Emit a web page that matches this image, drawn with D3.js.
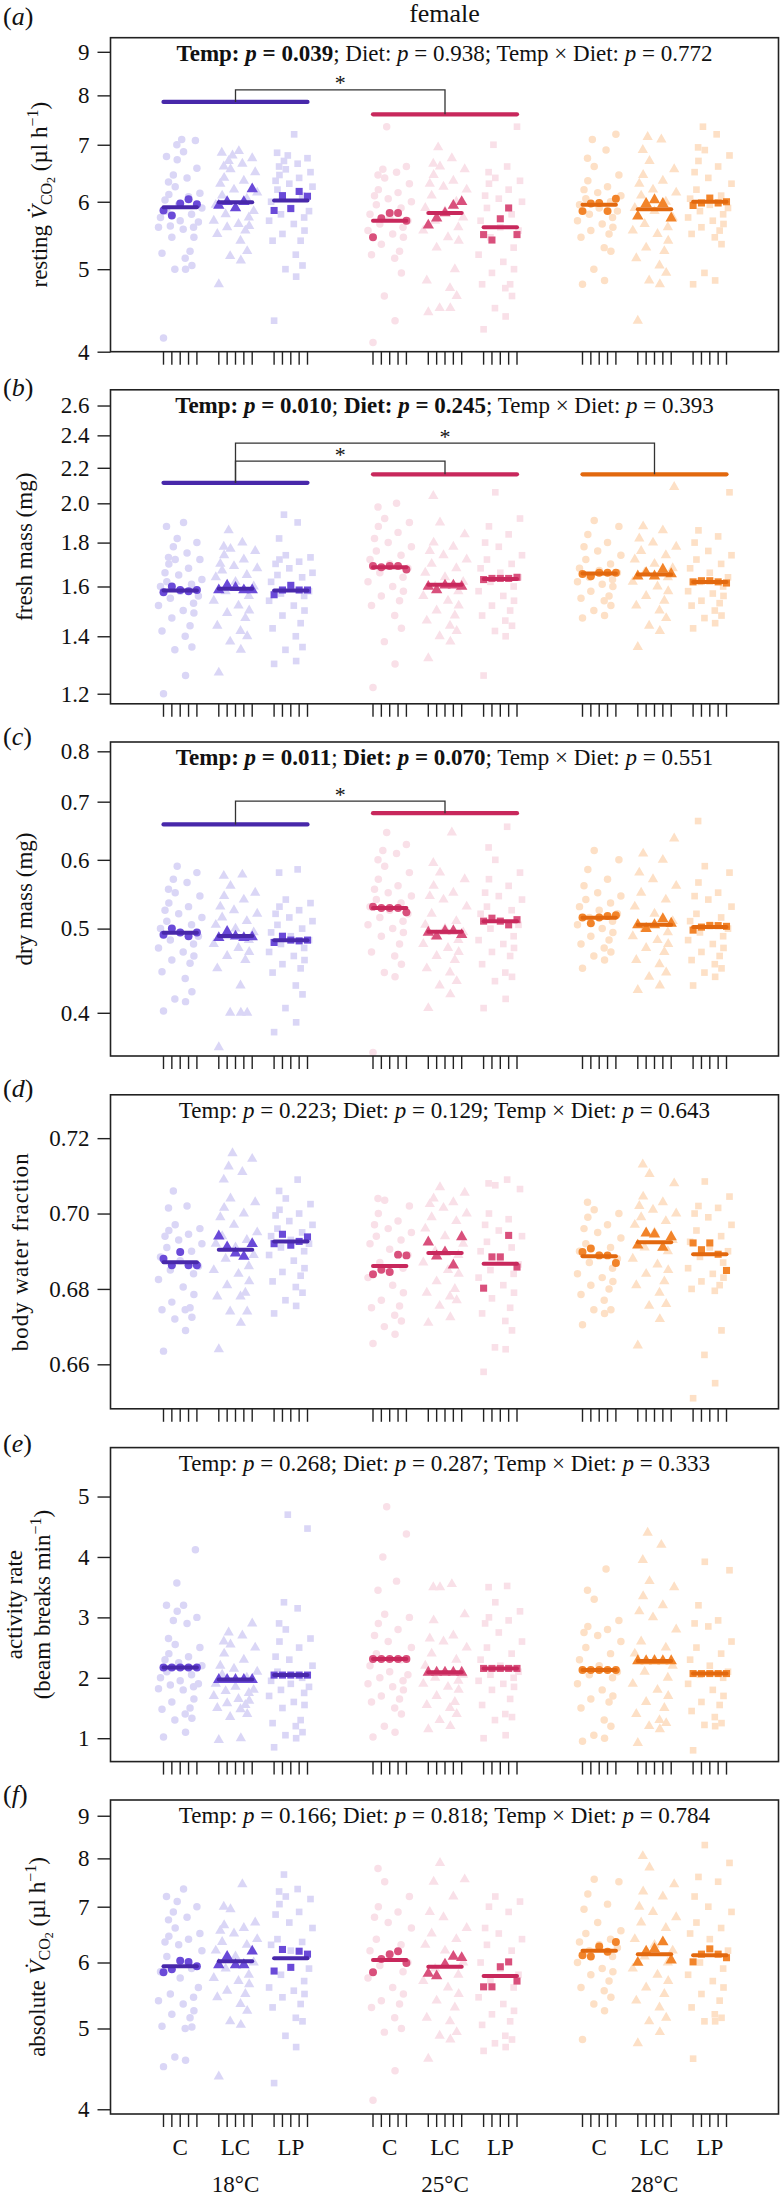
<!DOCTYPE html>
<html><head><meta charset="utf-8">
<script src="https://cdn.jsdelivr.net/npm/d3@7"></script>
<style>
body{margin:0;background:#fff}
svg{display:block}
text{font-family:"Liberation Serif","Times New Roman",serif;fill:#111}
</style></head><body>
<svg id="chart" width="780" height="2197"></svg>
<script>
// ---------------- data ----------------
const temps = ["18°C","25°C","28°C"];
const diets = ["C","LC","LP"];
const families = [0,1,2,3,4];

// p-values
const pTemp = ["0.039","0.010","0.011","0.223","0.268","0.166"];
const pDiet = ["0.938","0.245","0.070","0.129","0.287","0.818"];
const pInt  = ["0.772","0.393","0.551","0.643","0.333","0.784"];
const boldTemp = [true,true,true,false,false,false];
const boldDiet = [false,true,true,false,false,false];

// y ticks
const ticksA = [4,5,6,7,8,9];
const ticksB = [1.2,1.4,1.6,1.8,2.0,2.2,2.4,2.6];
const ticksC = [0.4,0.5,0.6,0.7,0.8];
const ticksD = [0.66,0.68,0.70,0.72];
const ticksE = [1,2,3,4,5];
const ticksF = [4,5,6,7,8,9];

// group order: 18-C,18-LC,18-LP,25-C,25-LC,25-LP,28-C,28-LC,28-LP
// (a) resting VCO2
const meanA = [5.91,5.99,6.02,5.70,5.82,5.60,5.95,5.88,6.00];
const famA = [[5.86,5.78,5.97,6.04,5.96],[5.94,6.0,5.90,6.0,6.21],[5.86,6.10,5.89,6.17,6.09],[5.45,5.74,5.82,5.82,5.70],[5.63,5.74,5.82,5.94,6.0],[5.49,5.41,5.73,5.90,5.49],[5.85,5.97,5.98,5.85,6.05],[5.77,5.97,6.03,5.97,5.74],[5.94,5.98,6.06,5.98,6.0]];
const paleA = [
 [4.15,5.0,5.0,5.05,5.15,5.22,5.25,5.45,5.45,5.57,5.6,5.6,5.62,5.68,5.7,5.75,5.8,5.85,5.9,5.95,6.03,6.08,6.12,6.14,6.25,6.33,6.4,6.45,6.57,6.72,6.78,6.87,7.0,7.08,7.1],
 [4.8,5.12,5.18,5.25,5.4,5.5,5.55,5.6,5.62,5.65,5.7,5.75,5.8,5.85,5.9,5.95,6.05,6.1,6.15,6.2,6.3,6.35,6.4,6.5,6.55,6.6,6.65,6.7,6.75,6.8,6.85,6.88],
 [4.35,4.9,5.0,5.05,5.2,5.4,5.4,5.5,5.55,5.65,5.7,5.75,5.8,5.85,5.9,6.0,6.1,6.2,6.25,6.3,6.35,6.4,6.45,6.5,6.55,6.6,6.65,6.7,6.75,6.8,6.85,7.2],
 [4.1,4.35,4.65,4.95,5.15,5.2,5.25,5.35,5.45,5.5,5.55,5.6,5.65,5.7,5.75,5.8,5.9,5.95,6.0,6.05,6.1,6.15,6.2,6.3,6.4,6.45,6.5,6.55,6.6,7.35],
 [4.45,4.5,4.5,4.65,4.75,4.85,5.0,5.3,5.4,5.45,5.55,5.6,5.7,5.75,5.85,5.9,6.0,6.1,6.2,6.25,6.3,6.35,6.45,6.55,6.6,6.65,6.75,6.95],
 [4.25,4.4,4.5,4.65,4.75,4.8,4.8,4.95,5.0,5.1,5.2,5.3,5.45,5.55,5.6,5.7,5.8,5.9,6.0,6.05,6.1,6.2,6.3,6.35,6.4,6.5,6.6,7.0,7.35],
 [4.8,4.85,5.0,5.25,5.3,5.45,5.5,5.55,5.6,5.65,5.7,5.75,5.8,5.85,5.9,5.95,6.0,6.05,6.1,6.15,6.2,6.25,6.35,6.45,6.6,6.75,6.9,7.1,7.2],
 [4.35,4.8,4.85,4.95,5.05,5.15,5.25,5.3,5.4,5.5,5.55,5.6,5.65,5.75,5.85,5.9,6.0,6.1,6.15,6.2,6.3,6.35,6.45,6.55,6.7,6.9,7.1,7.15],
 [4.8,4.85,4.95,5.35,5.45,5.5,5.55,5.6,5.65,5.7,5.75,5.8,5.85,5.9,5.95,6.05,6.1,6.2,6.3,6.4,6.5,6.6,6.7,6.8,6.9,6.95,7.2,7.35]
];
const sigBarsA = [[0,7.86],[1,7.6]];
const bracketsA = [[0,1,8.12]];

// (b) fresh mass
const meanB = [1.583,1.59,1.583,1.685,1.607,1.633,1.657,1.652,1.619];
const famB = [[1.575,1.60,1.585,1.58,1.585],[1.585,1.605,1.595,1.585,1.585],[1.565,1.585,1.605,1.585,1.585],[1.69,1.685,1.69,1.69,1.675],[1.60,1.585,1.605,1.605,1.60],[1.63,1.635,1.635,1.635,1.64],[1.655,1.645,1.66,1.66,1.66],[1.645,1.66,1.645,1.675,1.655],[1.62,1.625,1.625,1.62,1.615]];
const paleB = [
 [1.20,1.26,1.35,1.36,1.40,1.42,1.44,1.47,1.49,1.50,1.52,1.53,1.55,1.56,1.58,1.6,1.61,1.62,1.63,1.65,1.66,1.68,1.70,1.72,1.72,1.73,1.75,1.78,1.80,1.82,1.88,1.90],
 [1.27,1.35,1.38,1.40,1.42,1.44,1.47,1.49,1.50,1.52,1.54,1.56,1.58,1.6,1.62,1.64,1.65,1.67,1.68,1.69,1.70,1.72,1.74,1.76,1.77,1.78,1.80,1.86],
 [1.30,1.31,1.35,1.36,1.40,1.43,1.45,1.48,1.50,1.52,1.54,1.56,1.57,1.58,1.60,1.62,1.64,1.65,1.66,1.68,1.70,1.71,1.72,1.73,1.74,1.82,1.90,1.94],
 [1.22,1.30,1.38,1.43,1.48,1.52,1.54,1.56,1.58,1.60,1.62,1.64,1.66,1.68,1.70,1.72,1.74,1.76,1.78,1.80,1.82,1.85,1.88,1.90,1.92,1.98,2.0],
 [1.32,1.38,1.40,1.42,1.44,1.46,1.48,1.50,1.52,1.54,1.56,1.58,1.6,1.62,1.64,1.66,1.68,1.70,1.72,1.74,1.76,1.78,1.80,1.84,1.90,2.04],
 [1.26,1.40,1.42,1.44,1.46,1.48,1.50,1.52,1.54,1.56,1.58,1.60,1.62,1.64,1.66,1.68,1.70,1.72,1.74,1.78,1.80,1.84,1.88,1.92,2.06],
 [1.47,1.48,1.50,1.52,1.54,1.55,1.56,1.58,1.60,1.61,1.62,1.63,1.64,1.66,1.67,1.68,1.70,1.72,1.74,1.76,1.78,1.80,1.84,1.88,1.91],
 [1.36,1.42,1.44,1.47,1.50,1.52,1.54,1.56,1.58,1.60,1.62,1.64,1.66,1.68,1.70,1.72,1.74,1.76,1.78,1.80,1.82,1.86,1.88,2.09],
 [1.43,1.45,1.47,1.48,1.50,1.52,1.53,1.54,1.56,1.57,1.58,1.60,1.62,1.64,1.66,1.68,1.70,1.72,1.74,1.76,1.80,1.83,1.86,2.06]
];
const sigBarsB = [[0,2.113],[1,2.162],[2,2.162]];
const bracketsB = [[0,1,2.24],[0,2,2.35]];

// (c) dry mass
const meanC = [0.4947,0.4904,0.4848,0.528,0.496,0.510,0.5147,0.505,0.502];
const famC = [[0.492,0.500,0.495,0.490,0.495],[0.488,0.496,0.49,0.488,0.489],[0.482,0.49,0.485,0.484,0.485],[0.53,0.528,0.528,0.528,0.522],[0.495,0.49,0.497,0.497,0.492],[0.51,0.514,0.51,0.505,0.512],[0.515,0.507,0.515,0.517,0.518],[0.505,0.500,0.505,0.513,0.507],[0.498,0.502,0.504,0.504,0.503]];
const paleC = [
 [0.402,0.412,0.415,0.423,0.438,0.446,0.456,0.46,0.465,0.47,0.475,0.48,0.485,0.49,0.495,0.50,0.505,0.51,0.515,0.52,0.525,0.53,0.535,0.545,0.55,0.555,0.565,0.57,0.58,0.59],
 [0.365,0.40,0.40,0.40,0.43,0.45,0.46,0.465,0.47,0.475,0.48,0.485,0.49,0.495,0.50,0.505,0.51,0.515,0.52,0.525,0.53,0.54,0.545,0.55,0.56,0.575,0.577],
 [0.38,0.39,0.405,0.42,0.43,0.445,0.45,0.455,0.46,0.465,0.47,0.475,0.48,0.485,0.49,0.495,0.50,0.505,0.51,0.515,0.52,0.525,0.53,0.535,0.54,0.58,0.585],
 [0.36,0.44,0.445,0.455,0.465,0.47,0.48,0.49,0.495,0.50,0.505,0.51,0.515,0.52,0.525,0.53,0.535,0.54,0.545,0.55,0.555,0.56,0.57,0.58,0.59,0.60,0.61,0.615,0.625,0.645],
 [0.405,0.42,0.43,0.435,0.445,0.45,0.46,0.465,0.47,0.475,0.48,0.485,0.49,0.495,0.50,0.505,0.51,0.52,0.53,0.54,0.545,0.55,0.56,0.57,0.58,0.595,0.645],
 [0.405,0.415,0.435,0.44,0.445,0.455,0.465,0.47,0.475,0.48,0.485,0.49,0.50,0.505,0.51,0.52,0.525,0.53,0.54,0.545,0.55,0.56,0.57,0.58,0.60,0.62,0.655],
 [0.45,0.46,0.465,0.47,0.475,0.48,0.485,0.49,0.495,0.50,0.505,0.51,0.515,0.52,0.525,0.53,0.535,0.54,0.545,0.55,0.56,0.57,0.585,0.60,0.615],
 [0.425,0.43,0.44,0.445,0.455,0.46,0.47,0.475,0.48,0.485,0.49,0.495,0.50,0.51,0.52,0.53,0.54,0.55,0.56,0.57,0.58,0.60,0.61,0.635],
 [0.43,0.44,0.445,0.45,0.455,0.46,0.465,0.47,0.475,0.48,0.485,0.49,0.495,0.50,0.505,0.51,0.515,0.52,0.53,0.54,0.545,0.55,0.565,0.58,0.59,0.665]
];
const sigBarsC = [[0,0.659],[1,0.679]];
const bracketsC = [[0,1,0.701]];

// (d) body water fraction
const meanD = [0.6871,0.6904,0.6926,0.6861,0.6895,0.6867,0.6887,0.6924,0.6892];
const famD = [[0.688,0.6863,0.6898,0.6863,0.6863],[0.694,0.6911,0.6895,0.6886,0.692],[0.692,0.6945,0.6916,0.6926,0.6938],[0.6839,0.6851,0.6845,0.6891,0.6889],[0.6924,0.6887,0.6898,0.6863,0.6938],[0.6802,0.6885,0.6885,0.6942,0.6858],[0.6898,0.6907,0.6889,0.6889,0.6869],[0.6916,0.6948,0.6945,0.6910,0.6938],[0.6922,0.6904,0.6922,0.6892,0.6849]];
const paleD = [
 [0.6635,0.669,0.672,0.6725,0.6745,0.6745,0.675,0.6765,0.6785,0.6805,0.6825,0.684,0.685,0.686,0.6875,0.6885,0.69,0.691,0.692,0.693,0.694,0.6945,0.6955,0.696,0.697,0.7015,0.702,0.706],
 [0.664,0.671,0.674,0.674,0.678,0.678,0.679,0.681,0.682,0.684,0.685,0.686,0.688,0.689,0.691,0.692,0.693,0.694,0.695,0.697,0.699,0.700,0.7015,0.703,0.704,0.709,0.711,0.7125,0.7145,0.716],
 [0.6735,0.6755,0.677,0.679,0.6805,0.682,0.6835,0.6845,0.6855,0.6875,0.689,0.690,0.691,0.692,0.693,0.694,0.695,0.696,0.697,0.698,0.6995,0.700,0.701,0.7025,0.704,0.706,0.709],
 [0.6655,0.668,0.670,0.6715,0.673,0.675,0.6755,0.677,0.679,0.681,0.683,0.6855,0.687,0.689,0.6905,0.692,0.693,0.694,0.695,0.696,0.697,0.698,0.700,0.702,0.7035,0.704],
 [0.671,0.6725,0.6755,0.677,0.678,0.679,0.680,0.682,0.684,0.685,0.687,0.689,0.690,0.692,0.694,0.696,0.698,0.699,0.700,0.7015,0.7025,0.703,0.704,0.7055,0.707],
 [0.658,0.664,0.6645,0.669,0.6715,0.6735,0.675,0.6775,0.679,0.681,0.683,0.684,0.685,0.6865,0.688,0.690,0.691,0.6925,0.694,0.6955,0.697,0.6985,0.700,0.7065,0.7075,0.708,0.709],
 [0.6705,0.6735,0.6745,0.6745,0.677,0.6785,0.680,0.681,0.682,0.683,0.684,0.6855,0.687,0.688,0.689,0.690,0.691,0.692,0.6935,0.695,0.696,0.697,0.699,0.700,0.701,0.703],
 [0.665,0.672,0.6755,0.676,0.679,0.681,0.682,0.684,0.685,0.6865,0.688,0.690,0.691,0.693,0.695,0.697,0.698,0.699,0.700,0.701,0.702,0.703,0.7045,0.708,0.7105,0.713],
 [0.651,0.655,0.6625,0.669,0.6795,0.680,0.681,0.682,0.683,0.684,0.6855,0.687,0.6885,0.690,0.691,0.6925,0.694,0.6955,0.697,0.699,0.700,0.7015,0.702,0.7045,0.7085]
];

// (e) activity rate
const meanE = [2.17,1.97,2.045,2.31,2.09,2.155,2.13,2.28,2.07];
const famE = [[2.17,2.17,2.17,2.17,2.17],[1.97,1.97,1.97,1.97,1.97],[2.045,2.045,2.045,2.045,2.045],[2.31,2.31,2.31,2.31,2.31],[2.09,2.09,2.09,2.09,2.09],[2.155,2.155,2.155,2.155,2.155],[2.13,2.13,2.13,2.13,2.13],[2.28,2.28,2.28,2.28,2.28],[2.07,2.07,2.07,2.07,2.07]];
const paleE = [
 [1.02,1.1,1.3,1.33,1.4,1.48,1.5,1.6,1.65,1.8,1.82,1.85,1.88,1.9,1.95,2.0,2.05,2.1,2.2,2.25,2.3,2.35,2.4,2.5,2.55,2.65,2.9,2.95,3.0,3.1,3.2,3.2,3.57,4.12],
 [0.97,1.0,1.35,1.4,1.48,1.5,1.55,1.58,1.62,1.65,1.7,1.75,1.78,1.8,1.85,1.9,2.0,2.05,2.1,2.15,2.2,2.3,2.4,2.5,2.55,2.6,2.7,2.75,2.9],
 [0.85,1.0,1.05,1.1,1.2,1.25,1.3,1.5,1.55,1.6,1.7,1.75,1.8,1.85,1.9,1.95,2.0,2.1,2.2,2.3,2.35,2.5,2.6,2.65,2.8,2.9,3.15,3.25,4.47,4.7],
 [1.02,1.1,1.2,1.4,1.5,1.6,1.65,1.7,1.8,1.85,1.9,1.95,2.0,2.05,2.1,2.2,2.3,2.4,2.5,2.6,2.7,2.8,2.9,3.0,3.05,3.45,3.6,4.0,4.38,4.83],
 [1.15,1.2,1.3,1.4,1.5,1.55,1.6,1.7,1.8,1.85,1.9,1.95,2.0,2.05,2.1,2.2,2.3,2.4,2.5,2.6,2.65,2.7,2.95,3.05,3.5,3.5,3.55],
 [1.0,1.05,1.3,1.35,1.4,1.55,1.65,1.8,1.85,1.9,1.95,2.0,2.05,2.1,2.2,2.3,2.4,2.5,2.6,2.75,2.9,2.95,3.0,3.1,3.25,3.5,3.52],
 [0.95,1.0,1.05,1.2,1.3,1.5,1.6,1.65,1.7,1.8,1.9,2.0,2.05,2.1,2.2,2.3,2.4,2.5,2.6,2.7,2.75,2.8,2.85,2.95,3.3,3.45,3.8],
 [0.92,1.15,1.2,1.25,1.3,1.4,1.5,1.6,1.7,1.8,1.9,2.0,2.1,2.2,2.3,2.4,2.5,2.6,2.8,3.0,3.1,3.2,3.35,3.5,3.6,3.95,4.2,4.4],
 [0.8,1.2,1.22,1.25,1.35,1.45,1.55,1.6,1.7,1.8,1.9,2.0,2.05,2.1,2.2,2.3,2.4,2.5,2.6,2.85,2.9,2.95,3.2,3.78,3.92]
];

// (f) absolute VCO2
const meanF = [5.94,6.02,6.07,6.04,5.93,5.78,6.20,6.14,6.12];
const famF = [[5.84,5.89,6.03,6.01,5.94],[5.96,6.10,5.96,5.96,6.19],[5.86,6.22,5.92,6.19,6.14],[5.84,6.06,6.14,6.19,5.99],[5.82,5.78,5.97,6.10,6.08],[5.61,5.61,5.93,6.01,5.70],[6.12,6.10,6.27,6.18,6.35],[6.0,6.19,6.23,6.35,6.04],[6.01,6.14,6.23,6.14,6.08]];
const paleF = [
 [4.5,4.58,4.62,5.02,5.0,5.03,5.15,5.2,5.25,5.35,5.4,5.45,5.5,5.6,5.75,5.85,5.9,6.1,6.2,6.3,6.35,6.4,6.45,6.5,6.6,6.75,6.8,6.9,7.0,7.1,7.2,7.35],
 [4.38,5.05,5.1,5.25,5.35,5.45,5.5,5.55,5.65,5.7,5.75,5.8,5.9,6.0,6.1,6.2,6.3,6.35,6.4,6.5,6.55,6.6,6.65,6.7,6.95,7.0,7.45],
 [4.3,4.75,4.9,5.1,5.15,5.3,5.35,5.45,5.5,5.55,5.6,5.7,5.8,5.9,6.2,6.3,6.35,6.4,6.6,6.7,6.85,6.9,7.05,7.15,7.2,7.3,7.35,7.65],
 [4.1,4.45,4.95,5.0,5.15,5.3,5.35,5.4,5.5,5.6,5.75,5.85,5.95,6.0,6.1,6.2,6.3,6.4,6.6,6.7,6.8,6.9,7.0,7.2,7.5,7.78],
 [4.6,4.85,4.9,4.95,5.1,5.15,5.3,5.4,5.5,5.6,5.7,5.8,5.9,6.0,6.2,6.3,6.4,6.5,6.6,6.8,6.9,7.2,7.5,7.55,7.9],
 [4.7,4.75,4.8,4.85,4.9,5.05,5.1,5.2,5.25,5.35,5.45,5.6,5.7,5.8,5.9,6.0,6.2,6.3,6.4,6.5,6.6,6.9,7.0,7.1,7.2],
 [4.85,5.25,5.35,5.45,5.55,5.6,5.7,5.8,5.85,5.9,6.0,6.1,6.2,6.25,6.3,6.35,6.4,6.5,6.55,6.7,6.95,7.05,7.25,7.5,7.55],
 [4.8,4.95,5.1,5.15,5.3,5.4,5.5,5.6,5.7,5.8,5.9,6.0,6.1,6.2,6.3,6.4,6.6,6.7,6.8,6.9,7.0,7.2,7.3,7.45,7.8,8.05],
 [4.6,5.1,5.1,5.15,5.2,5.3,5.4,5.5,5.6,5.7,5.8,5.9,6.0,6.2,6.4,6.5,6.6,6.7,6.9,7.0,7.2,7.5,7.6,7.9,8.3]
];

// y domains (value range of each plot box)
const domA = [4, 9.35], domB = [1.168, 2.712], domC = [0.3567, 0.820];
const domD = [0.6482, 0.7315], domE = [0.613, 5.81], domF = [3.948, 9.40];

// ---------------- style / layout ----------------
const paleCol = ["#dad6f6","#f9e0e8","#fde0c6"];
const midCol  = ["#6a4ad8","#d9507c","#f2842a"];
const lineCol = ["#4828aa","#c8285c","#e2680e"];
const boxL = 110.5, boxR = 778.5, boxH = 314;
const panelTops = [37.7, 389.8, 742, 1094.8, 1447.6, 1800];
const famOrder = [0,3,1,4,2];
const jitter = [0,-3,3,-5,5,-1.5,1.5];
const shapes = [d3.symbolCircle, d3.symbolTriangle, d3.symbolSquare];

const panels = [
 {letter:"a", lab:25,   type:"log", dom:domA, ticks:ticksA, fmt:d3.format("d"),   mean:meanA, fam:famA, pale:paleA, bars:sigBarsA, br:bracketsA},
 {letter:"b", lab:396,  type:"log", dom:domB, ticks:ticksB, fmt:d3.format(".1f"), mean:meanB, fam:famB, pale:paleB, bars:sigBarsB, br:bracketsB},
 {letter:"c", lab:745,  type:"log", dom:domC, ticks:ticksC, fmt:d3.format(".1f"), mean:meanC, fam:famC, pale:paleC, bars:sigBarsC, br:bracketsC},
 {letter:"d", lab:1097, type:"lin", dom:domD, ticks:ticksD, fmt:d3.format(".2f"), mean:meanD, fam:famD, pale:paleD, bars:[], br:[]},
 {letter:"e", lab:1452, type:"lin", dom:domE, ticks:ticksE, fmt:d3.format("d"),   mean:meanE, fam:famE, pale:paleE, bars:[], br:[]},
 {letter:"f", lab:1803, type:"log", dom:domF, ticks:ticksF, fmt:d3.format("d"),   mean:meanF, fam:famF, pale:paleF, bars:[], br:[]}
];

const svg = d3.select("#chart");
const xTemp = d3.scalePoint().domain(temps).range([235.5, 654.5]);
const xDiet = d3.scalePoint().domain(diets).range([-55.3, 55.3]);
const xFam = d3.scalePoint().domain(families).range([-16.7, 16.7]);
const gx = g => xTemp(temps[Math.floor(g/3)]) + xDiet(diets[g%3]);

svg.append("text").attr("x", 444.5).attr("y", 21.7).attr("text-anchor","middle")
  .attr("font-size", 26).text("female");

panels.forEach((p, pi) => {
  const top = panelTops[pi], bot = top + boxH;
  const y = (p.type === "log" ? d3.scaleLog() : d3.scaleLinear()).domain(p.dom).range([bot, top]);
  const g = svg.append("g");

  // pale individual points
  p.pale.forEach((vals, gi) => {
    const t = Math.floor(gi/3);
    g.append("g").selectAll("path").data(vals).join("path")
      .attr("d", d3.symbol().type(shapes[gi%3]).size(gi%3===1 ? 46 : 44))
      .attr("transform", (v,i) => `translate(${gx(gi) + xFam(families[famOrder[i%5]]) + jitter[i%7]},${y(v)})`)
      .attr("fill", paleCol[t]);
  });

  // significance bars
  p.bars.forEach(([t, v]) => {
    g.append("line")
      .attr("x1", gx(t*3) + xFam(0)).attr("x2", gx(t*3+2) + xFam(4))
      .attr("y1", y(v)).attr("y2", y(v))
      .attr("stroke", lineCol[t]).attr("stroke-width", 4.2).attr("stroke-linecap","round");
  });
  p.br.forEach(([a, b, v]) => {
    const xa = xTemp(temps[a]), xb = xTemp(temps[b]);
    const ya = y(p.bars.find(d => d[0]===a)[1]), yb = y(p.bars.find(d => d[0]===b)[1]);
    g.append("path").attr("d", `M${xa},${ya}V${y(v)}H${xb}V${yb}`)
      .attr("fill","none").attr("stroke","#333").attr("stroke-width",1.3);
    g.append("text").attr("x",(xa+xb)/2).attr("y", y(v)+0.5).attr("text-anchor","middle")
      .attr("font-size",22).text("*");
  });

  // family points
  p.fam.forEach((vals, gi) => {
    const t = Math.floor(gi/3);
    g.append("g").selectAll("path").data(vals).join("path")
      .attr("d", d3.symbol().type(shapes[gi%3]).size(gi%3===1 ? 56 : 50))
      .attr("transform", (v,i) => `translate(${gx(gi) + xFam(families[i])},${y(v)})`)
      .attr("fill", midCol[t]);
  });

  // mean lines
  p.mean.forEach((v, gi) => {
    const t = Math.floor(gi/3);
    g.append("line")
      .attr("x1", gx(gi) + xFam(0)).attr("x2", gx(gi) + xFam(4))
      .attr("y1", y(v)).attr("y2", y(v))
      .attr("stroke", lineCol[t]).attr("stroke-width", 4).attr("stroke-linecap","round");
  });

  // box
  g.append("rect").attr("x", boxL).attr("y", top).attr("width", boxR-boxL).attr("height", boxH)
    .attr("fill","none").attr("stroke","#222").attr("stroke-width",1.6);

  // y axis
  const ax = g.append("g").attr("transform",`translate(${boxL},0)`)
    .call(d3.axisLeft(y).tickValues(p.ticks).tickFormat(p.fmt).tickSize(13).tickPadding(8));
  ax.select(".domain").remove();
  ax.selectAll("line").attr("stroke","#222").attr("stroke-width",1.4);
  ax.selectAll("text").attr("font-size",23).attr("font-family",'"Liberation Serif",serif').attr("fill","#111");

  // x ticks (one per family)
  const xt = [];
  d3.range(9).forEach(gi => families.forEach(f => xt.push(gx(gi) + xFam(f))));
  g.append("g").selectAll("line").data(xt).join("line")
    .attr("x1", d=>d).attr("x2", d=>d).attr("y1", bot).attr("y2", bot+13)
    .attr("stroke","#222").attr("stroke-width",1.4);

  // panel letter
  const lt = g.append("text").attr("x", 3).attr("y", p.lab).attr("font-size", 26);
  lt.append("tspan").text("(");
  lt.append("tspan").attr("font-style","italic").text(p.letter);
  lt.append("tspan").text(")");

  // p-value text
  const pt = g.append("text").attr("x", (boxL+boxR)/2).attr("y", top + 23)
    .attr("text-anchor","middle").attr("font-size", 23);
  const seg = (txt, bold, ital) => pt.append("tspan").attr("font-weight", bold ? "bold" : "normal")
    .attr("font-style", ital ? "italic" : "normal").text(txt);
  seg("Temp: ", boldTemp[pi]); seg("p", boldTemp[pi], true); seg(" = " + pTemp[pi], boldTemp[pi]);
  seg("; ", false);
  seg("Diet: ", boldDiet[pi]); seg("p", boldDiet[pi], true); seg(" = " + pDiet[pi], boldDiet[pi]);
  seg("; Temp \u00d7 Diet: ", false); seg("p", false, true); seg(" = " + pInt[pi], false);

  // y-axis title
  const cy = top + boxH/2;
  const ytitle = (x) => g.append("text").attr("transform", `translate(${x},${cy}) rotate(-90)`)
    .attr("text-anchor","middle").attr("font-size", 23);
  const vco2 = (t, word) => {
    t.append("tspan").text(word + " ");
    t.append("tspan").attr("font-style","italic").text("V\u0307");
    t.append("tspan").attr("font-size",16).attr("dy",5).text("CO");
    t.append("tspan").attr("font-size",12).attr("dy",3).text("2");
    t.append("tspan").attr("dy",-8).text(" (\u00b5l h");
    t.append("tspan").attr("font-size",16).attr("dy",-9).text("\u22121");
    t.append("tspan").attr("dy",9).text(")");
  };
  if (p.letter === "a") vco2(ytitle(47), "resting");
  if (p.letter === "b") ytitle(32).text("fresh mass (mg)");
  if (p.letter === "c") ytitle(32).text("dry mass (mg)");
  if (p.letter === "d") ytitle(28).attr("letter-spacing", 1).text("body water fraction");
  if (p.letter === "e") {
    ytitle(22).text("activity rate");
    const t2 = ytitle(50);
    t2.append("tspan").text("(beam breaks min");
    t2.append("tspan").attr("font-size",16).attr("dy",-9).text("\u22121");
    t2.append("tspan").attr("dy",9).text(")");
  }
  if (p.letter === "f") vco2(ytitle(45), "absolute");

  // x category labels on the last panel
  if (pi === panels.length - 1) {
    g.append("g").selectAll("text").data(d3.range(9)).join("text")
      .attr("x", gi => gx(gi)).attr("y", 2155).attr("text-anchor","middle").attr("font-size",23)
      .text(gi => diets[gi%3]);
    g.append("g").selectAll("text").data(temps).join("text")
      .attr("x", t => xTemp(t)).attr("y", 2191.7).attr("text-anchor","middle").attr("font-size",23)
      .text(t => t);
  }
});
</script>
</body></html>
